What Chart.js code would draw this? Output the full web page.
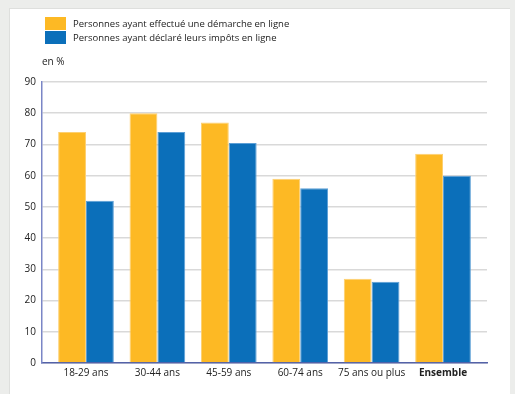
<!DOCTYPE html>
<html>
<head>
<meta charset="utf-8">
<script src="https://cdn.jsdelivr.net/npm/chart.js@4/dist/chart.umd.min.js"></script>
<style>
  html, body { margin: 0; padding: 0; background: #ecedeb; }
  body { width: 515px; height: 394px; position: relative; overflow: hidden; }
  #carte { position: absolute; left: 9px; top: 8px; width: 500px; height: 400px; background: #fff; border-left: 1px solid #dedfdd; border-top: 1px solid #dedfdd; }
  #myChart { position: absolute; left: 0; top: 0; }
</style>
</head>
<body>
<div id="carte"></div>
<canvas id="myChart" width="515" height="394"></canvas>
<script>
let categories = ["18-29 ans", "30-44 ans", "45-59 ans", "60-74 ans", "75 ans ou plus", "Ensemble"];
let demarche = [74, 80, 77, 59, 27, 67];
let impots = [52, 74, 70.5, 56, 26, 60];
let yTicks = [0, 10, 20, 30, 40, 50, 60, 70, 80, 90];

let jaune = "#fdb924";
let bleu = "#0b6fba";
let texte = "#222";
let lettertype = "'Open Sans'";

function punten(waarden) {
    return waarden.map((v, i) => ({ x: i, y: v }));
}

const legendeEnUnite = {
    id: "legendeEnUnite",
    afterDraw(chart) {
        const c = chart.ctx;
        c.save();
        c.font = "9.5px " + lettertype;
        c.textBaseline = "middle";
        c.textAlign = "left";
        chart.data.datasets.forEach((ds, i) => {
            const y = 17 + i * 14;
            c.fillStyle = ds.backgroundColor;
            c.fillRect(45, y, 21, 13);
            c.fillStyle = texte;
            c.fillText(ds.label, 73, y + 7);
        });
        c.font = "10px " + lettertype;
        c.fillText("en %", 42, 62);
        c.restore();
    }
};

new Chart(document.getElementById("myChart"), {
    type: "bar",
    data: {
        datasets: [{
            label: "Personnes ayant effectué une démarche en ligne",
            data: punten(demarche),
            backgroundColor: jaune,
            borderColor: "#fdd070",
            borderWidth: 1
        }, {
            label: "Personnes ayant déclaré leurs impôts en ligne",
            data: punten(impots),
            backgroundColor: bleu,
            borderColor: "#5c9fd6",
            borderWidth: 1
        }]
    },
    options: {
        responsive: false,
        animation: false,
        layout: { padding: { left: 0, right: 28, top: 82, bottom: 0 } },
        datasets: { bar: { categoryPercentage: 0.78, barPercentage: 1 } },
        plugins: { legend: { display: false }, tooltip: { enabled: false } },
        scales: {
            x: {
                type: "linear",
                offset: false,
                min: -0.616,
                max: 5.616,
                afterBuildTicks: s => { s.ticks = categories.map((_, i) => ({ value: i })); },
                afterFit: s => { s.height = 31; },
                grid: { display: false, offset: false, drawTicks: false },
                border: { display: true, color: "#5462a8", width: 1.5 },
                ticks: {
                    padding: 4,
                    color: texte,
                    autoSkip: false,
                    maxRotation: 0,
                    callback: v => categories[v],
                    font: ctx => ({ family: lettertype, size: 10, weight: ctx.index === 5 ? "bold" : "normal" })
                }
            },
            y: {
                min: 0,
                max: 90,
                afterBuildTicks: s => { s.ticks = yTicks.map(v => ({ value: v })); },
                afterFit: s => { s.width = 42; },
                grid: { color: "#d9d9d9", lineWidth: 1.5, drawTicks: false },
                border: { display: true, color: "#7a86c6", width: 1.5 },
                ticks: { padding: 6, color: texte, font: { family: lettertype, size: 10 } }
            }
        }
    },
    plugins: [legendeEnUnite]
});
</script>
</body>
</html>
